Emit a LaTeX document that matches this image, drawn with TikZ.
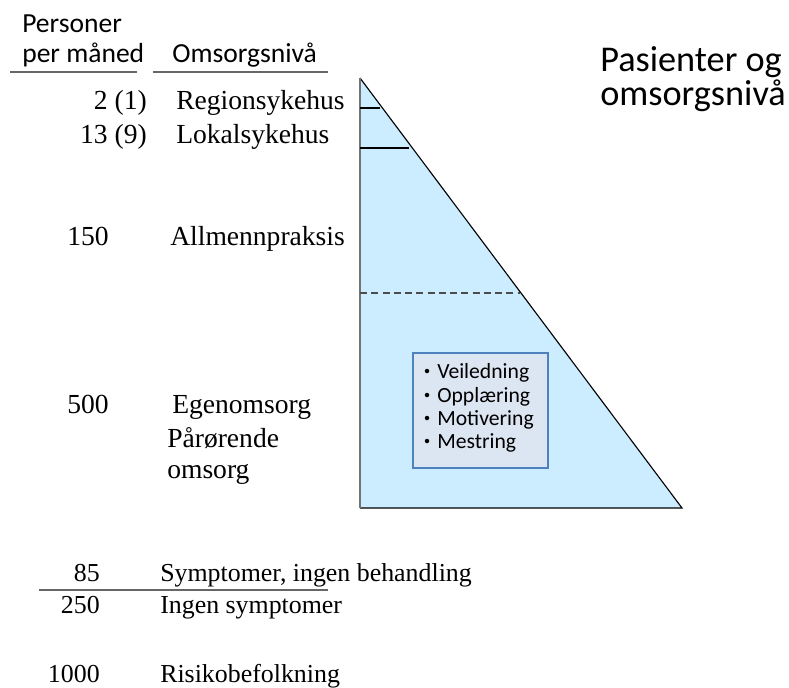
\documentclass[tikz,border=0pt]{standalone}
\usepackage{fontspec}
\setmainfont{Liberation Serif}
\newfontfamily\calibri{Carlito}
\definecolor{wedgeblue}{RGB}{204,236,255}
\definecolor{boxfill}{RGB}{220,230,242}
\definecolor{boxedge}{RGB}{79,129,189}
\tikzset{
  levelbig/.style={font=\fontsize{19.6}{22}\selectfont, inner sep=0pt},
  levelsmall/.style={font=\fontsize{18.4}{21}\selectfont, inner sep=0pt},
  header/.style={font=\calibri\fontsize{19.6}{22}\selectfont, inner sep=0pt},
  headline/.style={font=\calibri\fontsize{25.8}{22.2}\selectfont, inner sep=0pt, align=left},
  bullettext/.style={font=\calibri\fontsize{15.4}{17}\selectfont, inner sep=0pt},
  bulletdot/.style={circle, fill=black, inner sep=0pt, minimum size=3.2pt},
  underline/.style={draw=black!60, line width=0.9pt},
  wedgeedge/.style={draw=black, line width=0.8pt, line join=miter},
  wedgeside/.style={draw=black!55, line width=1.4pt},
  levelline/.style={draw=black, line width=0.8pt},
  careline/.style={draw=black!70, line width=0.8pt, dash pattern=on 5pt off 3pt},
  tipsbox/.style={fill=boxfill, draw=boxedge, line width=1pt},
}

\begin{document}
\begin{tikzpicture}[x=0.025cm, y=-0.025cm]
\useasboundingbox (0,0) rectangle (789,687);
% headings
\node[header, anchor=base west] (pers) at (22,32) {Personer};
\node[header, anchor=base west] (mnd) at (22,62) {per måned};
\node[header, anchor=base west] (niva) at (172,62) {Omsorgsnivå};
\draw[underline] (10,72) -- (137,72);
\draw[underline] (153,72) -- (328,72);
\node[headline, anchor=base west] (tit) at (600,105) {Pasienter og\\omsorgsnivå};
% triangle
\coordinate (apex) at (360,78);
\coordinate (foot) at (360,508);
\coordinate (toe) at (682,508);
\fill[wedgeblue] (apex) -- (foot) -- (toe) -- cycle;
\draw[wedgeedge] (apex) -- (toe) -- (foot);
\draw[wedgeside] (apex) -- (foot);
\draw[levelline] (360,108) -- (380,108);
\draw[levelline] (360,148) -- (409,148);
\draw[careline] (360,293) -- (520,293);
% box
\draw[tipsbox] (413,353) rectangle (548,468);
\foreach \y/\txt in {378/Veiledning, 402/Opplæring, 425/Motivering, 448/Mestring}{
  \node[bulletdot] at (427,\y-7) {};
  \node[bullettext, anchor=base west] at (437,\y) {\txt};
}
% levels
\node[levelbig, anchor=base east] (n1) at (147,109) {2 (1)};
\node[levelbig, anchor=base west] (l1) at (176,109) {Regionsykehus};
\node[levelbig, anchor=base east] (n2) at (147,143) {13 (9)};
\node[levelbig, anchor=base west] (l2) at (176,143) {Lokalsykehus};
\node[levelbig, anchor=base west] (n3) at (67,245) {150};
\node[levelbig, anchor=base west] (l3) at (170,245) {Allmennpraksis};
\node[levelbig, anchor=base west] (n4) at (67,413) {500};
\node[levelbig, anchor=base west] (l4) at (172,413) {Egenomsorg};
\node[levelbig, anchor=base west] (l5) at (167,447) {Pårørende};
\node[levelbig, anchor=base west] (l6) at (167,478) {omsorg};
% outside
\node[levelsmall, anchor=base east] (n7) at (100,581) {85};
\node[levelsmall, anchor=base west] (l7) at (160,581) {Symptomer, ingen behandling};
\draw[underline] (39,590) -- (328,590);
\node[levelsmall, anchor=base east] (n8) at (100,613) {250};
\node[levelsmall, anchor=base west] (l8) at (160,613) {Ingen symptomer};
\node[levelsmall, anchor=base east] (n9) at (100,682) {1000};
\node[levelsmall, anchor=base west] (l9) at (160,682) {Risikobefolkning};
\end{tikzpicture}
\end{document}
